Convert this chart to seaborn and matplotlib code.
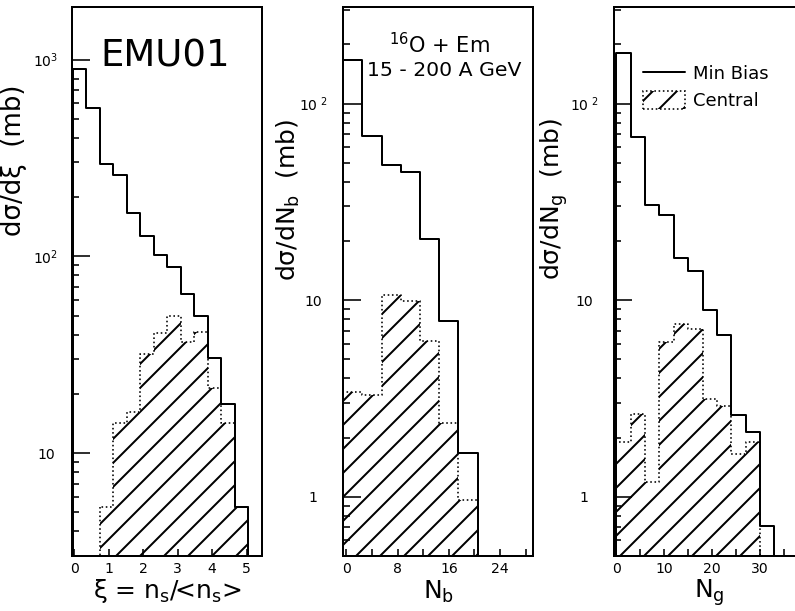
import matplotlib

matplotlib.use("Agg")
import matplotlib.pyplot as plt
import numpy as np
import seaborn as sns
from matplotlib.lines import Line2D
from matplotlib.patches import Patch
from matplotlib.path import Path
from matplotlib.ticker import FixedLocator, LogLocator, NullFormatter

# values (16O + Em, 15 - 200 A GeV)
xi_edges = [-0.04, 0.35, 0.74, 1.13, 1.53, 1.92, 2.31, 2.70, 3.09, 3.49, 3.88, 4.27, 4.66, 5.05]
xi_minbias = [897, 569, 295, 260, 167, 127, 102, 88, 64, 50, 30.6, 17.7, 5.33]
xi_central_edges = [0.74, 1.13, 1.53, 1.92, 2.31, 2.70, 3.09, 3.49, 3.88, 4.27, 4.66, 5.05]
xi_central = [5.33, 14.3, 16.1, 32, 40.8, 50, 36.6, 41.3, 21.5, 14.3, 5.33]
xi_ticks = [0, 1, 2, 3, 4, 5]

nb_edges = [-0.5, 2.5, 5.5, 8.5, 11.5, 14.5, 17.5, 20.5]
nb_minbias = [167, 68.2, 49, 44.9, 20.6, 7.8, 1.67]
nb_central = [3.4, 3.3, 10.6, 9.9, 6.2, 2.38, 0.96]
nb_ticks = [0, 8, 16, 24]

ng_edges = [0, 3, 6, 9, 12, 15, 18, 21, 24, 27, 30, 33]
ng_minbias = [181, 67.6, 30.4, 27.1, 16.4, 14.1, 8.9, 6.64, 2.6, 2.14, 0.71]
ng_central_edges = [0, 3, 6, 9, 12, 15, 18, 21, 24, 27, 30]
ng_central = [1.9, 2.63, 1.19, 6.14, 7.61, 7.1, 3.13, 2.9, 1.66, 1.9]
ng_ticks = [0, 10, 20, 30]

sns.set_style("white")
plt.rcParams.update(
    {
        "font.family": ["DejaVu Sans"],
        "mathtext.default": "regular",
        "axes.edgecolor": "black",
        "axes.linewidth": 1.0,
        "axes.axisbelow": False,
        "text.color": "black",
        "axes.labelcolor": "black",
        "xtick.color": "black",
        "ytick.color": "black",
        "xtick.direction": "in",
        "ytick.direction": "in",
        "xtick.bottom": True,
        "ytick.left": True,
        "hatch.linewidth": 1.0,
        "hatch.color": "black",
    }
)


def draw_hist(ax, edges, minbias, central_edges, central):
    e = np.asarray(edges, dtype=float)
    sns.histplot(
        x=(e[:-1] + e[1:]) / 2,
        weights=minbias,
        bins=list(edges),
        element="step",
        fill=True,
        color="black",
        facecolor="none",
        edgecolor="black",
        linewidth=1.0,
        ax=ax,
    )
    ce = np.asarray(central_edges, dtype=float)
    sns.histplot(
        x=(ce[:-1] + ce[1:]) / 2,
        weights=central,
        bins=list(central_edges),
        element="step",
        fill=True,
        color="black",
        facecolor="none",
        edgecolor="black",
        linestyle=":",
        linewidth=0.8,
        hatch="//",
        ax=ax,
    )


def clamp_to_floor(ax, floor):
    # the step fills start at y=0, which a log axis sends far below the frame;
    # rest them on the bottom of the axis instead
    for coll in ax.collections:
        verts = []
        for p in coll.get_paths():
            v = np.array(p.vertices, dtype=float)
            if p.codes is not None and p.codes[-1] == Path.CLOSEPOLY:
                v = v[:-1]
            v[:, 1] = np.maximum(v[:, 1], floor)
            verts.append(v)
        coll.set_verts(verts)


def style_axis(ax, ylim, yticks, ylabels, ypad, xlim, xticks, xminor):
    ax.set_axisbelow(False)
    ax.set_yscale("log")
    ax.set_ylim(*ylim)
    ax.set_xlim(*xlim)
    clamp_to_floor(ax, ylim[0])
    ax.yaxis.set_major_locator(FixedLocator(yticks))
    ax.set_yticklabels(ylabels)
    ax.yaxis.set_minor_locator(LogLocator(base=10, subs=np.arange(2, 10), numticks=30))
    ax.yaxis.set_minor_formatter(NullFormatter())
    ax.set_xticks(xticks, labels=[str(t) for t in xticks])
    if xminor:
        ax.set_xticks(xminor, minor=True)
    ax.tick_params(axis="y", which="major", length=9, width=0.8, labelsize=7, pad=ypad)
    ax.tick_params(axis="y", which="minor", length=3.5, width=0.8)
    ax.tick_params(axis="x", which="both", length=3.5, width=0.8, labelsize=7, pad=3)
    ax.tick_params(left=True, bottom=True, top=False, right=False, which="both")
    for lab in ax.get_yticklabels():
        lab.set_horizontalalignment("center")


fig = plt.figure(figsize=(795 / 144, 611 / 144), dpi=144)
ax1 = fig.add_axes([0.0906, 0.090, 0.239, 0.8985])
ax2 = fig.add_axes([0.4318, 0.090, 0.239, 0.8985])
ax3 = fig.add_axes([0.7723, 0.090, 0.239, 0.8985])

draw_hist(ax1, xi_edges, xi_minbias, xi_central_edges, xi_central)
draw_hist(ax2, nb_edges, nb_minbias, nb_edges, nb_central)
draw_hist(ax3, ng_edges, ng_minbias, ng_central_edges, ng_central)

# left panel
style_axis(ax1, (3, 1850), [10, 100, 1000], ["10", "$10^{2}$", "$10^{3}$"], 13,
           (-0.06, 5.45), xi_ticks, [])
ax1.set_ylabel("dσ/dξ  (mb)", fontsize=13)
ax1.yaxis.set_label_coords(-0.237, 0.721)
ax1.set_xlabel("ξ = n$_{s}$/<n$_{s}$>", fontsize=12.5)
ax1.xaxis.set_label_coords(0.5, -0.064)
ax1.xaxis.label.set_verticalalignment("center")
ax1.text(0.147, 0.891, "EMU01", transform=ax1.transAxes, fontsize=18.5,
         ha="left", va="baseline")

# middle panel
style_axis(ax2, (0.5, 310), [1, 10, 100], ["1", "10", "$10^{\\ 2}$"], 15,
           (-0.5, 29.2), nb_ticks, [4, 12, 20, 28])
ax2.set_ylabel("dσ/dN$_{b}$  (mb)", fontsize=12.5)
ax2.yaxis.set_label_coords(-0.217, 0.648)
ax2.set_xlabel("N$_{b}$", fontsize=12.5)
ax2.xaxis.set_label_coords(0.5, -0.066)
ax2.xaxis.label.set_verticalalignment("center")
ax2.text(0.504, 0.931, "$^{16}$O + Em", transform=ax2.transAxes, fontsize=10.5,
         ha="center", va="center")
ax2.text(0.53, 0.885, "15 - 200 A GeV", transform=ax2.transAxes, fontsize=10.2,
         ha="center", va="center")

# right panel (cut at the page edge)
style_axis(ax3, (0.5, 310), [1, 10, 100], ["1", "10", "$10^{\\ 2}$"], 15,
           (-0.5, 39.2), ng_ticks, [5, 15, 25, 35])
ax3.set_ylabel("dσ/dN$_{g}$  (mb)", fontsize=12.5)
ax3.yaxis.set_label_coords(-0.232, 0.65)
ax3.set_xlabel("N$_{g}$", fontsize=12.5)
ax3.xaxis.set_label_coords(0.5, -0.066)
ax3.xaxis.label.set_verticalalignment("center")

handles = [
    Line2D([], [], color="black", linewidth=1.0),
    Patch(facecolor="none", edgecolor="black", hatch="//", linestyle=":", linewidth=0.8),
]
ax3.legend(
    handles,
    ["Min Bias", "Central"],
    loc="upper left",
    bbox_to_anchor=(0.153, 0.896),
    frameon=False,
    fontsize=9,
    handlelength=2.33,
    handleheight=1.2,
    handletextpad=0.45,
    labelspacing=0.4,
    borderpad=0,
    borderaxespad=0,
)

fig.savefig("out.png", dpi=144)
